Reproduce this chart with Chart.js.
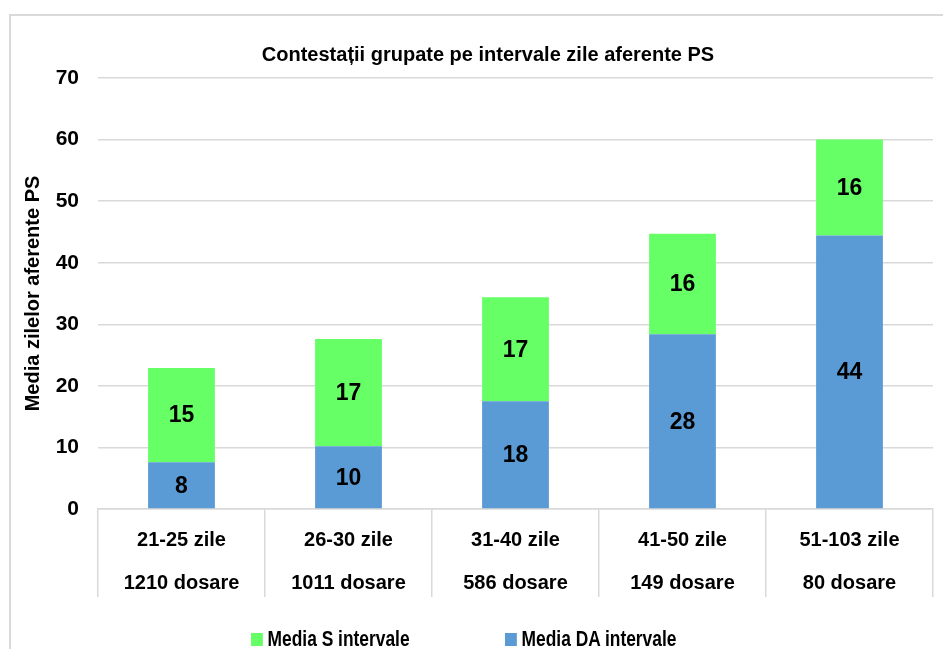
<!DOCTYPE html>
<html>
<head>
<meta charset="utf-8">
<script src="https://cdn.jsdelivr.net/npm/chart.js@4.4.1/dist/chart.umd.min.js"></script>
<style>
  html, body { margin: 0; padding: 0; background: #fff; overflow: hidden; }
  #wrap { position: relative; width: 943px; height: 649px; }
  #frame { position: absolute; left: 9px; top: 14px; width: 1000px; height: 700px; border: 2px solid #d9d9d9; box-sizing: border-box; }
  canvas { position: absolute; left: 0; top: 0; }
  .leg { position: absolute; top: 626px; font: bold 22px 'Liberation Sans Narrow', 'Arial Narrow', 'Liberation Sans', sans-serif; color: #000; white-space: nowrap; transform: scaleX(0.79); transform-origin: left center; }
  .leg i { display: inline-block; width: 15px; height: 13px; margin-right: 6px; vertical-align: 0; }
</style>
</head>
<body>
<div id="wrap">
  <div id="frame"></div>
  <canvas id="chartCanvas" width="943" height="649"></canvas>
  <div class="leg" style="left:251px"><i style="background:#66ff66"></i>Media S intervale</div>
  <div class="leg" style="left:505px"><i style="background:#5b9bd5"></i>Media DA intervale</div>
</div>
<script>
const FONT = "'Liberation Sans Narrow', 'Arial Narrow', 'Liberation Sans', sans-serif";

const intervals = ['21-25 zile', '26-30 zile', '31-40 zile', '41-50 zile', '51-103 zile'];
const dosare = ['1210 dosare', '1011 dosare', '586 dosare', '149 dosare', '80 dosare'];
const mediaDA = [7.6, 10.2, 17.5, 28.4, 44.4];
const mediaS = [15.3, 17.4, 16.9, 16.3, 15.6];
const yTicks = [0, 10, 20, 30, 40, 50, 60, 70];

const titleText = 'Contestații grupate pe intervale zile aferente PS';

const labels = intervals.map((t, i) => [t, dosare[i]]);

const titlePlugin = {
  id: 'chartTitle',
  afterDraw(chart) {
    const ctx = chart.ctx;
    ctx.save();
    ctx.font = 'bold 20px ' + FONT;
    ctx.fillStyle = '#000';
    ctx.textAlign = 'center';
    ctx.textBaseline = 'middle';
    ctx.fillText(titleText, 488, 55);
    ctx.restore();
  }
};

const valueLabels = {
  id: 'valueLabels',
  afterDatasetsDraw(chart) {
    const ctx = chart.ctx;
    ctx.save();
    ctx.font = 'bold 23px ' + FONT;
    ctx.fillStyle = '#000';
    ctx.textAlign = 'center';
    ctx.textBaseline = 'middle';
    chart.data.datasets.forEach((ds, di) => {
      chart.getDatasetMeta(di).data.forEach((bar, i) => {
        const y = (bar.y + bar.base) / 2 + 1;
        ctx.fillText(String(Math.round(ds.data[i])), bar.x, y);
      });
    });
    ctx.restore();
  }
};

new Chart(document.getElementById('chartCanvas'), {
  type: 'bar',
  data: {
    labels,
    datasets: [
      { label: 'Media DA intervale', data: mediaDA, backgroundColor: '#5b9bd5' },
      { label: 'Media S intervale', data: mediaS, backgroundColor: '#66ff66' }
    ]
  },
  options: {
    responsive: false,
    animation: false,
    layout: { padding: { left: 0, right: 10, top: 78, bottom: 40 } },
    categoryPercentage: 1,
    barPercentage: 0.4,
    plugins: {
      legend: { display: false },
      title: { display: false },
      tooltip: { enabled: false }
    },
    scales: {
      x: {
        stacked: true,
        grid: { offset: true, drawOnChartArea: false, drawTicks: true, tickLength: 88, color: '#d9d9d9', lineWidth: 1.5 },
        border: { display: true, color: '#d9d9d9', width: 1.5 },
        ticks: {
          padding: -78,
          maxRotation: 0,
          autoSkip: false,
          color: '#000',
          font: { family: FONT, size: 20, weight: 'bold', lineHeight: 2.15 }
        },
        afterFit(s) { s.height = 100; }
      },
      y: {
        stacked: true,
        min: 0,
        max: 70,
        afterBuildTicks(s) { s.ticks = yTicks.map(v => ({ value: v })); },
        grid: { drawTicks: false, color: '#d9d9d9', lineWidth: 1.5 },
        border: { display: false },
        ticks: { padding: 19, color: '#000', font: { family: FONT, size: 21, weight: 'bold' } },
        title: {
          display: true,
          text: 'Media zilelor aferente PS',
          color: '#000',
          font: { family: FONT, size: 20, weight: 'bold' },
          padding: { top: 21, bottom: 0 }
        },
        afterFit(s) { s.width = 98; }
      }
    }
  },
  plugins: [titlePlugin, valueLabels]
});
</script>
</body>
</html>
